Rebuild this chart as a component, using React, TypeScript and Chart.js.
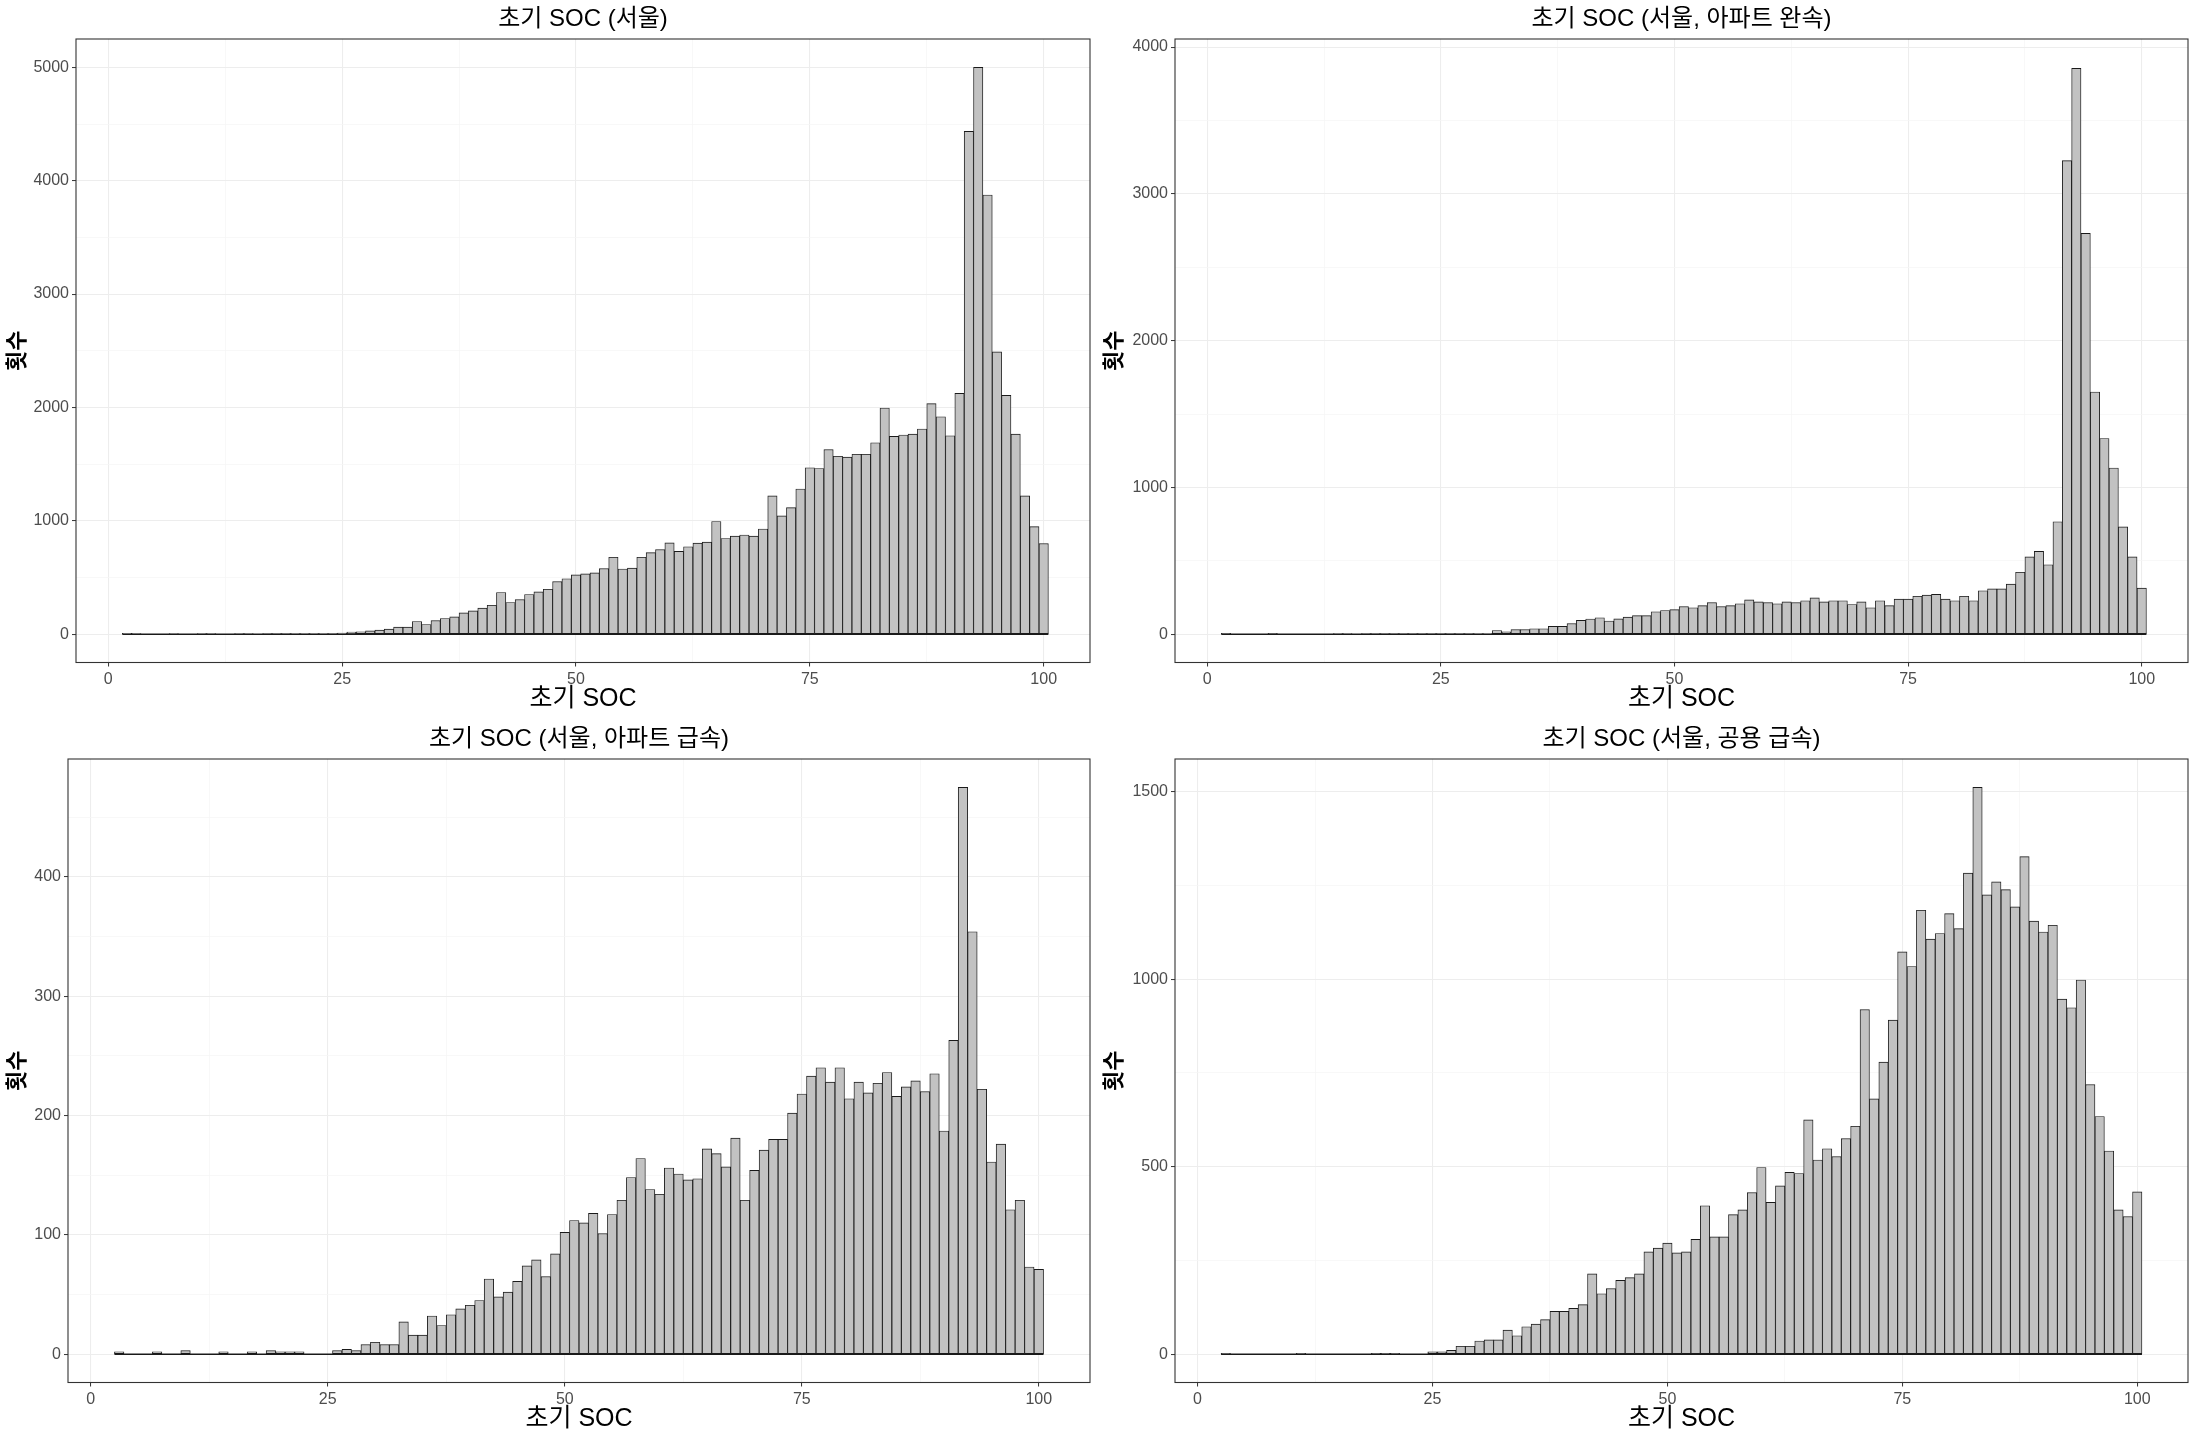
import React, { useEffect, useRef } from "react";
import { Chart, registerables } from "chart.js";

Chart.register(...registerables);

const FONT = '"Liberation Sans", "Noto Sans CJK KR", Arial, sans-serif';

// SOC bins (integer centres)
const BINS_FROM_2 = [
  2, 3, 4, 5, 6, 7, 8, 9, 10, 11, 12, 13, 14, 15, 16, 17, 18, 19, 20, 21, 22, 23, 24, 25,
  26, 27, 28, 29, 30, 31, 32, 33, 34, 35, 36, 37, 38, 39, 40, 41, 42, 43, 44, 45, 46, 47,
  48, 49, 50, 51, 52, 53, 54, 55, 56, 57, 58, 59, 60, 61, 62, 63, 64, 65, 66, 67, 68, 69,
  70, 71, 72, 73, 74, 75, 76, 77, 78, 79, 80, 81, 82, 83, 84, 85, 86, 87, 88, 89, 90, 91,
  92, 93, 94, 95, 96, 97, 98, 99, 100,
];
const BINS_FROM_3 = BINS_FROM_2.slice(1);

// 초기 SOC (서울) — bins 2..100
const COUNTS_SEOUL = [
  8, 6, 0, 0, 0, 5, 0, 0, 4, 4, 0, 0, 4, 4, 0, 3, 3, 3, 4, 4, 4, 5, 6, 9,
  18, 21, 29, 35, 44, 62, 62, 112, 85, 120, 138, 153, 188, 206, 229, 255, 367, 279, 305, 350, 373, 396,
  464, 489, 523, 532, 540, 578, 678, 575, 583, 678, 719, 746, 805, 730, 771, 803, 812, 994, 844, 865, 875, 865,
  928, 1220, 1043, 1116, 1280, 1468, 1461, 1628, 1569, 1562, 1587, 1587, 1688, 1995, 1744, 1757, 1764, 1810, 2033, 1918, 1750, 2124,
  4435, 5000, 3874, 2490, 2106, 1764, 1220, 948, 799,
];

// 초기 SOC (서울, 아파트 완속) — bins 2..100
const COUNTS_APT_SLOW = [
  6, 0, 0, 0, 0, 5, 0, 0, 0, 0, 0, 0, 3, 3, 0, 2, 2, 2, 2, 2, 2, 2, 2, 2,
  2, 2, 2, 3, 4, 25, 16, 31, 31, 37, 37, 53, 53, 72, 94, 103, 112, 90, 104, 116, 126, 126,
  153, 161, 167, 188, 180, 194, 215, 188, 194, 207, 234, 220, 215, 207, 220, 215, 228, 247, 220, 228, 228, 202,
  220, 180, 228, 194, 239, 239, 258, 266, 271, 239, 228, 258, 228, 296, 309, 309, 341, 422, 527, 564, 473, 766,
  3226, 3855, 2731, 1650, 1333, 1132, 731, 527, 314,
];

// 초기 SOC (서울, 아파트 급속) — bins 3..100
const COUNTS_APT_FAST = [
  2, 0, 0, 0, 2, 0, 0, 3, 0, 0, 0, 2, 0, 0, 2, 0, 3, 2, 2, 2, 0, 0, 0,
  3, 4, 3, 8, 10, 8, 8, 27, 16, 16, 32, 24, 33, 38, 41, 45, 63, 48, 52, 61, 74, 79,
  65, 84, 102, 112, 110, 118, 101, 117, 129, 148, 164, 138, 134, 156, 151, 146, 147, 172, 168, 157, 181, 129,
  154, 171, 180, 180, 202, 218, 233, 240, 228, 240, 214, 228, 219, 227, 236, 216, 224, 229, 220, 235, 187, 263,
  475, 354, 222, 161, 176, 121, 129, 73, 71,
];

// 초기 SOC (서울, 공용 급속) — bins 3..100
const COUNTS_PUBLIC_FAST = [
  2, 0, 0, 0, 0, 0, 0, 0, 2, 0, 0, 0, 0, 0, 0, 0, 2, 2, 2, 0, 0, 0, 6,
  6, 10, 21, 21, 35, 38, 38, 64, 49, 73, 80, 92, 114, 114, 122, 132, 214, 161, 175, 197, 204, 214,
  273, 283, 296, 270, 273, 306, 396, 313, 313, 372, 385, 431, 498, 405, 449, 485, 482, 625, 518, 548, 527, 575,
  608, 919, 681, 779, 891, 1073, 1034, 1184, 1107, 1122, 1175, 1135, 1283, 1512, 1225, 1260, 1239, 1193, 1327, 1155, 1126, 1144,
  947, 924, 998, 719, 634, 542, 385, 367, 433,
];

const X_MAJOR = [0, 25, 50, 75, 100];
const X_MINOR = [12.5, 37.5, 62.5, 87.5];

const Y_MAJOR_SEOUL = [0, 1000, 2000, 3000, 4000, 5000];
const Y_MINOR_SEOUL = [500, 1500, 2500, 3500, 4500];
const Y_MAJOR_APT_SLOW = [0, 1000, 2000, 3000, 4000];
const Y_MINOR_APT_SLOW = [500, 1500, 2500, 3500];
const Y_MAJOR_APT_FAST = [0, 100, 200, 300, 400];
const Y_MINOR_APT_FAST = [50, 150, 250, 350, 450];
const Y_MAJOR_PUBLIC_FAST = [0, 500, 1000, 1500];
const Y_MINOR_PUBLIC_FAST = [250, 750, 1250];

const TITLES = [
  "초기 SOC (서울)",
  "초기 SOC (서울, 아파트 완속)",
  "초기 SOC (서울, 아파트 급속)",
  "초기 SOC (서울, 공용 급속)",
];
const X_TITLE = "초기 SOC";
const Y_TITLE = "횟수";

type Panel = {
  title: string;
  bins: number[];
  counts: number[];
  yMajor: number[];
  yMinor: number[];
  xMin: number;
  xMax: number;
  yMin: number;
  yMax: number;
  cellLeft: number;
  cellTop: number;
  cellW: number;
  chartLeft: number;
  chartRight: number;
};

const CELL_H = 720;
const CHART_TOP = 39;
const CHART_BOTTOM = 662.5;

const PANELS: Panel[] = [
  {
    title: TITLES[0], bins: BINS_FROM_2, counts: COUNTS_SEOUL,
    yMajor: Y_MAJOR_SEOUL, yMinor: Y_MINOR_SEOUL,
    xMin: -3.45, xMax: 104.95, yMin: -250, yMax: 5250,
    cellLeft: 0, cellTop: 0, cellW: 1097, chartLeft: 76, chartRight: 1090,
  },
  {
    title: TITLES[1], bins: BINS_FROM_2, counts: COUNTS_APT_SLOW,
    yMajor: Y_MAJOR_APT_SLOW, yMinor: Y_MINOR_APT_SLOW,
    xMin: -3.45, xMax: 104.95, yMin: -193, yMax: 4055,
    cellLeft: 1097, cellTop: 0, cellW: 1098, chartLeft: 78, chartRight: 1091,
  },
  {
    title: TITLES[2], bins: BINS_FROM_3, counts: COUNTS_APT_FAST,
    yMajor: Y_MAJOR_APT_FAST, yMinor: Y_MINOR_APT_FAST,
    xMin: -2.4, xMax: 105.4, yMin: -23.75, yMax: 498.75,
    cellLeft: 0, cellTop: 720, cellW: 1097, chartLeft: 68, chartRight: 1090,
  },
  {
    title: TITLES[3], bins: BINS_FROM_3, counts: COUNTS_PUBLIC_FAST,
    yMajor: Y_MAJOR_PUBLIC_FAST, yMinor: Y_MINOR_PUBLIC_FAST,
    xMin: -2.4, xMax: 105.4, yMin: -75.6, yMax: 1587.6,
    cellLeft: 1097, cellTop: 720, cellW: 1098, chartLeft: 78, chartRight: 1091,
  },
];

const framePlugin = {
  id: "ggFrame",
  afterDraw(chart: any, _args: any, opts: any) {
    const { ctx, chartArea: a } = chart;
    ctx.save();
    ctx.strokeStyle = "#333333";
    ctx.lineWidth = 1.1;
    ctx.strokeRect(a.left, a.top, a.right - a.left, a.bottom - a.top);
    const cx = (a.left + a.right) / 2;
    ctx.fillStyle = "#000000";
    ctx.textAlign = "center";
    ctx.textBaseline = "middle";
    ctx.font = `24px ${FONT}`;
    ctx.fillText(opts.title, cx, 19);
    ctx.font = `25px ${FONT}`;
    ctx.fillText(opts.xTitle, cx, 699);
    ctx.translate(18, (a.top + a.bottom) / 2);
    ctx.rotate(-Math.PI / 2);
    ctx.font = `bold 22px ${FONT}`;
    ctx.fillText(opts.yTitle, 0, 0);
    ctx.restore();
  },
};

function HistPanel({ p }: { p: Panel }) {
  const ref = useRef<HTMLCanvasElement | null>(null);
  useEffect(() => {
    if (!ref.current) return;
    const xTicks = [...X_MAJOR, ...X_MINOR].sort((a, b) => a - b);
    const yTicks = [...p.yMajor, ...p.yMinor].sort((a, b) => a - b);
    const isMajX = (v: number) => X_MAJOR.includes(v);
    const isMajY = (v: number) => p.yMajor.includes(v);
    const firstEdge = p.bins[0] - 0.5;
    const lastEdge = p.bins[p.bins.length - 1] + 0.5;
    const chart = new Chart(ref.current, {
      type: "bar",
      data: {
        datasets: [
          {
            type: "line",
            label: "baseline",
            data: [
              { x: firstEdge, y: 0 },
              { x: lastEdge, y: 0 },
            ],
            borderColor: "#1A1A1A",
            borderWidth: 1.5,
            pointRadius: 0,
            order: 0,
          } as any,
          {
            type: "bar",
            label: Y_TITLE,
            data: p.bins.map((b, i) => ({ x: b, y: p.counts[i] })),
            backgroundColor: "#C2C2C2",
            borderColor: "#1A1A1A",
            borderWidth: 0.9,
            borderSkipped: false,
            barPercentage: 1,
            categoryPercentage: 1,
            order: 1,
          } as any,
        ],
      },
      options: {
        animation: false,
        responsive: false,
        maintainAspectRatio: false,
        devicePixelRatio: 1,
        layout: {
          padding: {
            left: 0,
            right: p.cellW - p.chartRight,
            top: CHART_TOP,
            bottom: 0,
          },
        },
        plugins: {
          legend: { display: false },
          tooltip: { enabled: false },
          title: { display: false },
          ggFrame: { title: p.title, xTitle: X_TITLE, yTitle: Y_TITLE },
        } as any,
        scales: {
          x: {
            type: "linear",
            min: p.xMin,
            max: p.xMax,
            offset: false,
            afterBuildTicks: (s: any) => {
              s.ticks = xTicks.map((v) => ({ value: v }));
            },
            afterFit: (s: any) => {
              s.height = CELL_H - CHART_BOTTOM;
            },
            ticks: {
              autoSkip: false,
              maxRotation: 0,
              padding: 3,
              color: "#4D4D4D",
              font: { family: FONT, size: 16 },
              callback: (v: any) => (isMajX(Number(v)) ? String(v) : ""),
            },
            grid: {
              offset: false,
              drawTicks: true,
              tickLength: 4,
              color: (c: any) => (c.tick && isMajX(c.tick.value) ? "#EDEDED" : "#F5F5F5"),
              lineWidth: (c: any) => (c.tick && isMajX(c.tick.value) ? 1.1 : 0.7),
              tickColor: (c: any) =>
                c.tick && isMajX(c.tick.value) ? "#333333" : "rgba(0,0,0,0)",
              tickWidth: 1,
            },
            border: { display: false },
          },
          y: {
            type: "linear",
            min: p.yMin,
            max: p.yMax,
            afterBuildTicks: (s: any) => {
              s.ticks = yTicks.map((v) => ({ value: v }));
            },
            afterFit: (s: any) => {
              s.width = p.chartLeft;
            },
            ticks: {
              autoSkip: false,
              padding: 3,
              color: "#4D4D4D",
              font: { family: FONT, size: 16 },
              callback: (v: any) => (isMajY(Number(v)) ? String(v) : ""),
            },
            grid: {
              drawTicks: true,
              tickLength: 4,
              color: (c: any) => (c.tick && isMajY(c.tick.value) ? "#EDEDED" : "#F5F5F5"),
              lineWidth: (c: any) => (c.tick && isMajY(c.tick.value) ? 1.1 : 0.7),
              tickColor: (c: any) =>
                c.tick && isMajY(c.tick.value) ? "#333333" : "rgba(0,0,0,0)",
              tickWidth: 1,
            },
            border: { display: false },
          },
        },
      } as any,
      plugins: [framePlugin],
    });
    return () => chart.destroy();
  }, [p]);

  return (
    <canvas
      ref={ref}
      width={p.cellW}
      height={CELL_H}
      style={{
        position: "absolute",
        left: p.cellLeft,
        top: p.cellTop,
        width: p.cellW,
        height: CELL_H,
      }}
    />
  );
}

export default function App() {
  return (
    <div style={{ position: "relative", width: 2195, height: 1440, background: "#ffffff" }}>
      <style>{`html,body{margin:0;padding:0;background:#fff;}`}</style>
      {PANELS.map((p, i) => (
        <HistPanel key={i} p={p} />
      ))}
    </div>
  );
}
